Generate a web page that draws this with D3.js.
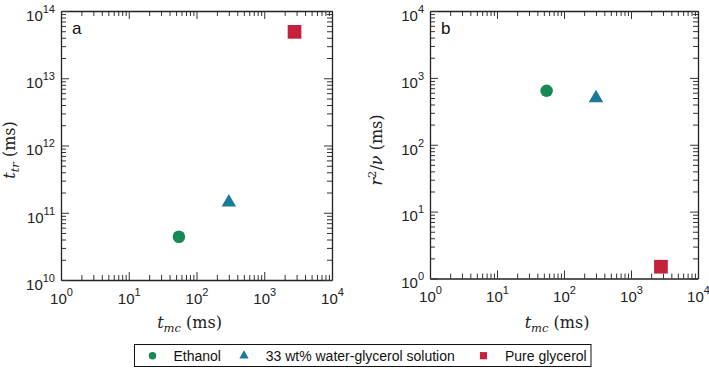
<!DOCTYPE html>
<html><head><meta charset="utf-8">
<script src="https://cdn.jsdelivr.net/npm/d3@7"></script>
<style>body{margin:0;background:#fff} svg{display:block}</style></head>
<body>
<svg id="c" width="709" height="368"></svg>
<script>
const categories = ["Ethanol", "33 wt% water-glycerol solution", "Pure glycerol"];
const tMc = [55, 300, 2800];
const tTr = [4.4e10, 1.43e11, 4.9e13];
const r2nu = [640, 500, 1.5];
const xTickExp = [0, 1, 2, 3, 4];
const aYTickExp = [10, 11, 12, 13, 14];
const bYTickExp = [0, 1, 2, 3, 4];
const panelLetters = ["a", "b"];

const colors = ["#168a55", "#1a7a9c", "#c4223c"];
const symbols = [d3.symbolCircle, d3.symbolTriangle, d3.symbolSquare];
const markerSizes = [123, 91, 188];
const legendSizes = [44, 38, 52];

const svg = d3.select("#c");
const SANS = "'Liberation Sans', Arial, sans-serif";
const SERIF = "'DejaVu Serif', serif";

function minorTicks(exps) {
  const out = [];
  for (let i = 0; i < exps.length - 1; i++)
    for (let k = 2; k <= 9; k++) out.push(k * Math.pow(10, exps[i]));
  return out;
}

function supLabels(sel) {
  sel.selectAll(".tick text").each(function(d) {
    const t = d3.select(this);
    t.text("10").attr("font-size", 15).attr("font-family", SANS).attr("fill", "#222");
    t.append("tspan").attr("dy", -8).attr("font-size", 11).text(Math.round(Math.log10(d)));
  });
}

function panel(o) {
  const x = d3.scaleLog().domain([10 ** xTickExp[0], 10 ** xTickExp[xTickExp.length - 1]]).range([o.left, o.right]);
  const y = d3.scaleLog().domain([10 ** o.yExp[0], 10 ** o.yExp[o.yExp.length - 1]]).range([o.bottom, o.top]);
  const g = svg.append("g");
  const xMaj = xTickExp.map(e => 10 ** e), yMaj = o.yExp.map(e => 10 ** e);
  const xMin = minorTicks(xTickExp), yMin = minorTicks(o.yExp);

  const defs = [
    [d3.axisBottom, x, xMaj, xMin, `translate(0,${o.bottom})`, true],
    [d3.axisTop, x, xMaj, xMin, `translate(0,${o.top})`, false],
    [d3.axisLeft, y, yMaj, yMin, `translate(${o.left},0)`, true],
    [d3.axisRight, y, yMaj, yMin, `translate(${o.right},0)`, false]
  ];
  defs.forEach(([fn, sc, maj, min, tr, lab]) => {
    const gm = g.append("g").attr("transform", tr)
      .call(fn(sc).tickValues(min).tickSizeInner(-5).tickSizeOuter(0).tickFormat(""));
    gm.select(".domain").remove();
    gm.selectAll("line").attr("stroke", "#333").attr("stroke-width", 1);
    const gM = g.append("g").attr("transform", tr)
      .call(fn(sc).tickValues(maj).tickSizeInner(-8).tickSizeOuter(0)
        .tickPadding(fn === d3.axisBottom ? 13 : 6).tickFormat(lab ? (() => "10") : ""));
    gM.select(".domain").attr("stroke", "#222").attr("stroke-width", 1.3);
    gM.selectAll("line").attr("stroke", "#333").attr("stroke-width", 1);
    if (lab) {
      supLabels(gM);
      if (fn === d3.axisLeft) gM.selectAll(".tick text").attr("dy", "0.62em");
    }
  });

  // panel letter
  g.append("text").attr("x", o.left + 11).attr("y", o.top + 23)
    .attr("font-family", SANS).attr("font-size", 17).attr("fill", "#111").text(o.letter);

  // x title
  const xt = g.append("text").attr("x", (o.left + o.right) / 2 - 7).attr("y", 328)
    .attr("text-anchor", "middle").attr("font-family", SERIF).attr("font-size", 16).attr("fill", "#222");
  xt.append("tspan").attr("font-style", "italic").text("t");
  xt.append("tspan").attr("font-style", "italic").attr("font-size", 11.5).attr("dy", 4).text("mc");
  xt.append("tspan").attr("dy", -4).text(" (ms)");

  // y title
  const yt = g.append("text").attr("transform", `translate(${o.ytx},${o.yty}) rotate(-90)`)
    .attr("text-anchor", "middle").attr("font-family", SERIF).attr("font-size", 16).attr("fill", "#222");
  o.ytitle(yt);

  // points
  g.selectAll("path.pt").data(tMc).join("path").attr("class", "pt")
    .attr("transform", (d, i) => `translate(${x(d)},${y(o.yvals[i])})`)
    .attr("d", (d, i) => d3.symbol().type(symbols[i]).size(markerSizes[i])())
    .attr("fill", (d, i) => colors[i]);
}

panel({
  left: 61, right: 332, top: 11, bottom: 280, yExp: aYTickExp, yvals: tTr, letter: panelLetters[0],
  ytx: 15, yty: 150,
  ytitle: t => {
    t.append("tspan").attr("font-style", "italic").text("t");
    t.append("tspan").attr("font-style", "italic").attr("font-size", 11.5).attr("dy", 4).text("tr");
    t.append("tspan").attr("dy", -4).text(" (ms)");
  }
});
panel({
  left: 430, right: 698, top: 11, bottom: 278.5, yExp: bYTickExp, yvals: r2nu, letter: panelLetters[1],
  ytx: 382, yty: 150,
  ytitle: t => {
    t.append("tspan").attr("font-style", "italic").text("r");
    t.append("tspan").attr("font-size", 11.5).attr("dy", -6).text("2");
    t.append("tspan").attr("dy", 6).text("/");
    t.append("tspan").attr("font-style", "italic").text("ν");
    t.append("tspan").text(" (ms)");
  }
});

// legend
const lg = svg.append("g");
lg.append("rect").attr("x", 134.5).attr("y", 344.5).attr("width", 456.5).attr("height", 22)
  .attr("fill", "#fff").attr("stroke", "#111").attr("stroke-width", 1);
const legMarkX = [152.5, 244, 483.5];
const legTextX = [173.5, 265.7, 505];
categories.forEach((c, i) => {
  lg.append("path").attr("transform", `translate(${legMarkX[i]},355.7)`)
    .attr("d", d3.symbol().type(symbols[i]).size(legendSizes[i])()).attr("fill", colors[i]);
  lg.append("text").attr("x", legTextX[i]).attr("y", 360.7).attr("font-family", SANS)
    .attr("font-size", 14).attr("fill", "#111").text(c);
});
</script>
</body></html>
